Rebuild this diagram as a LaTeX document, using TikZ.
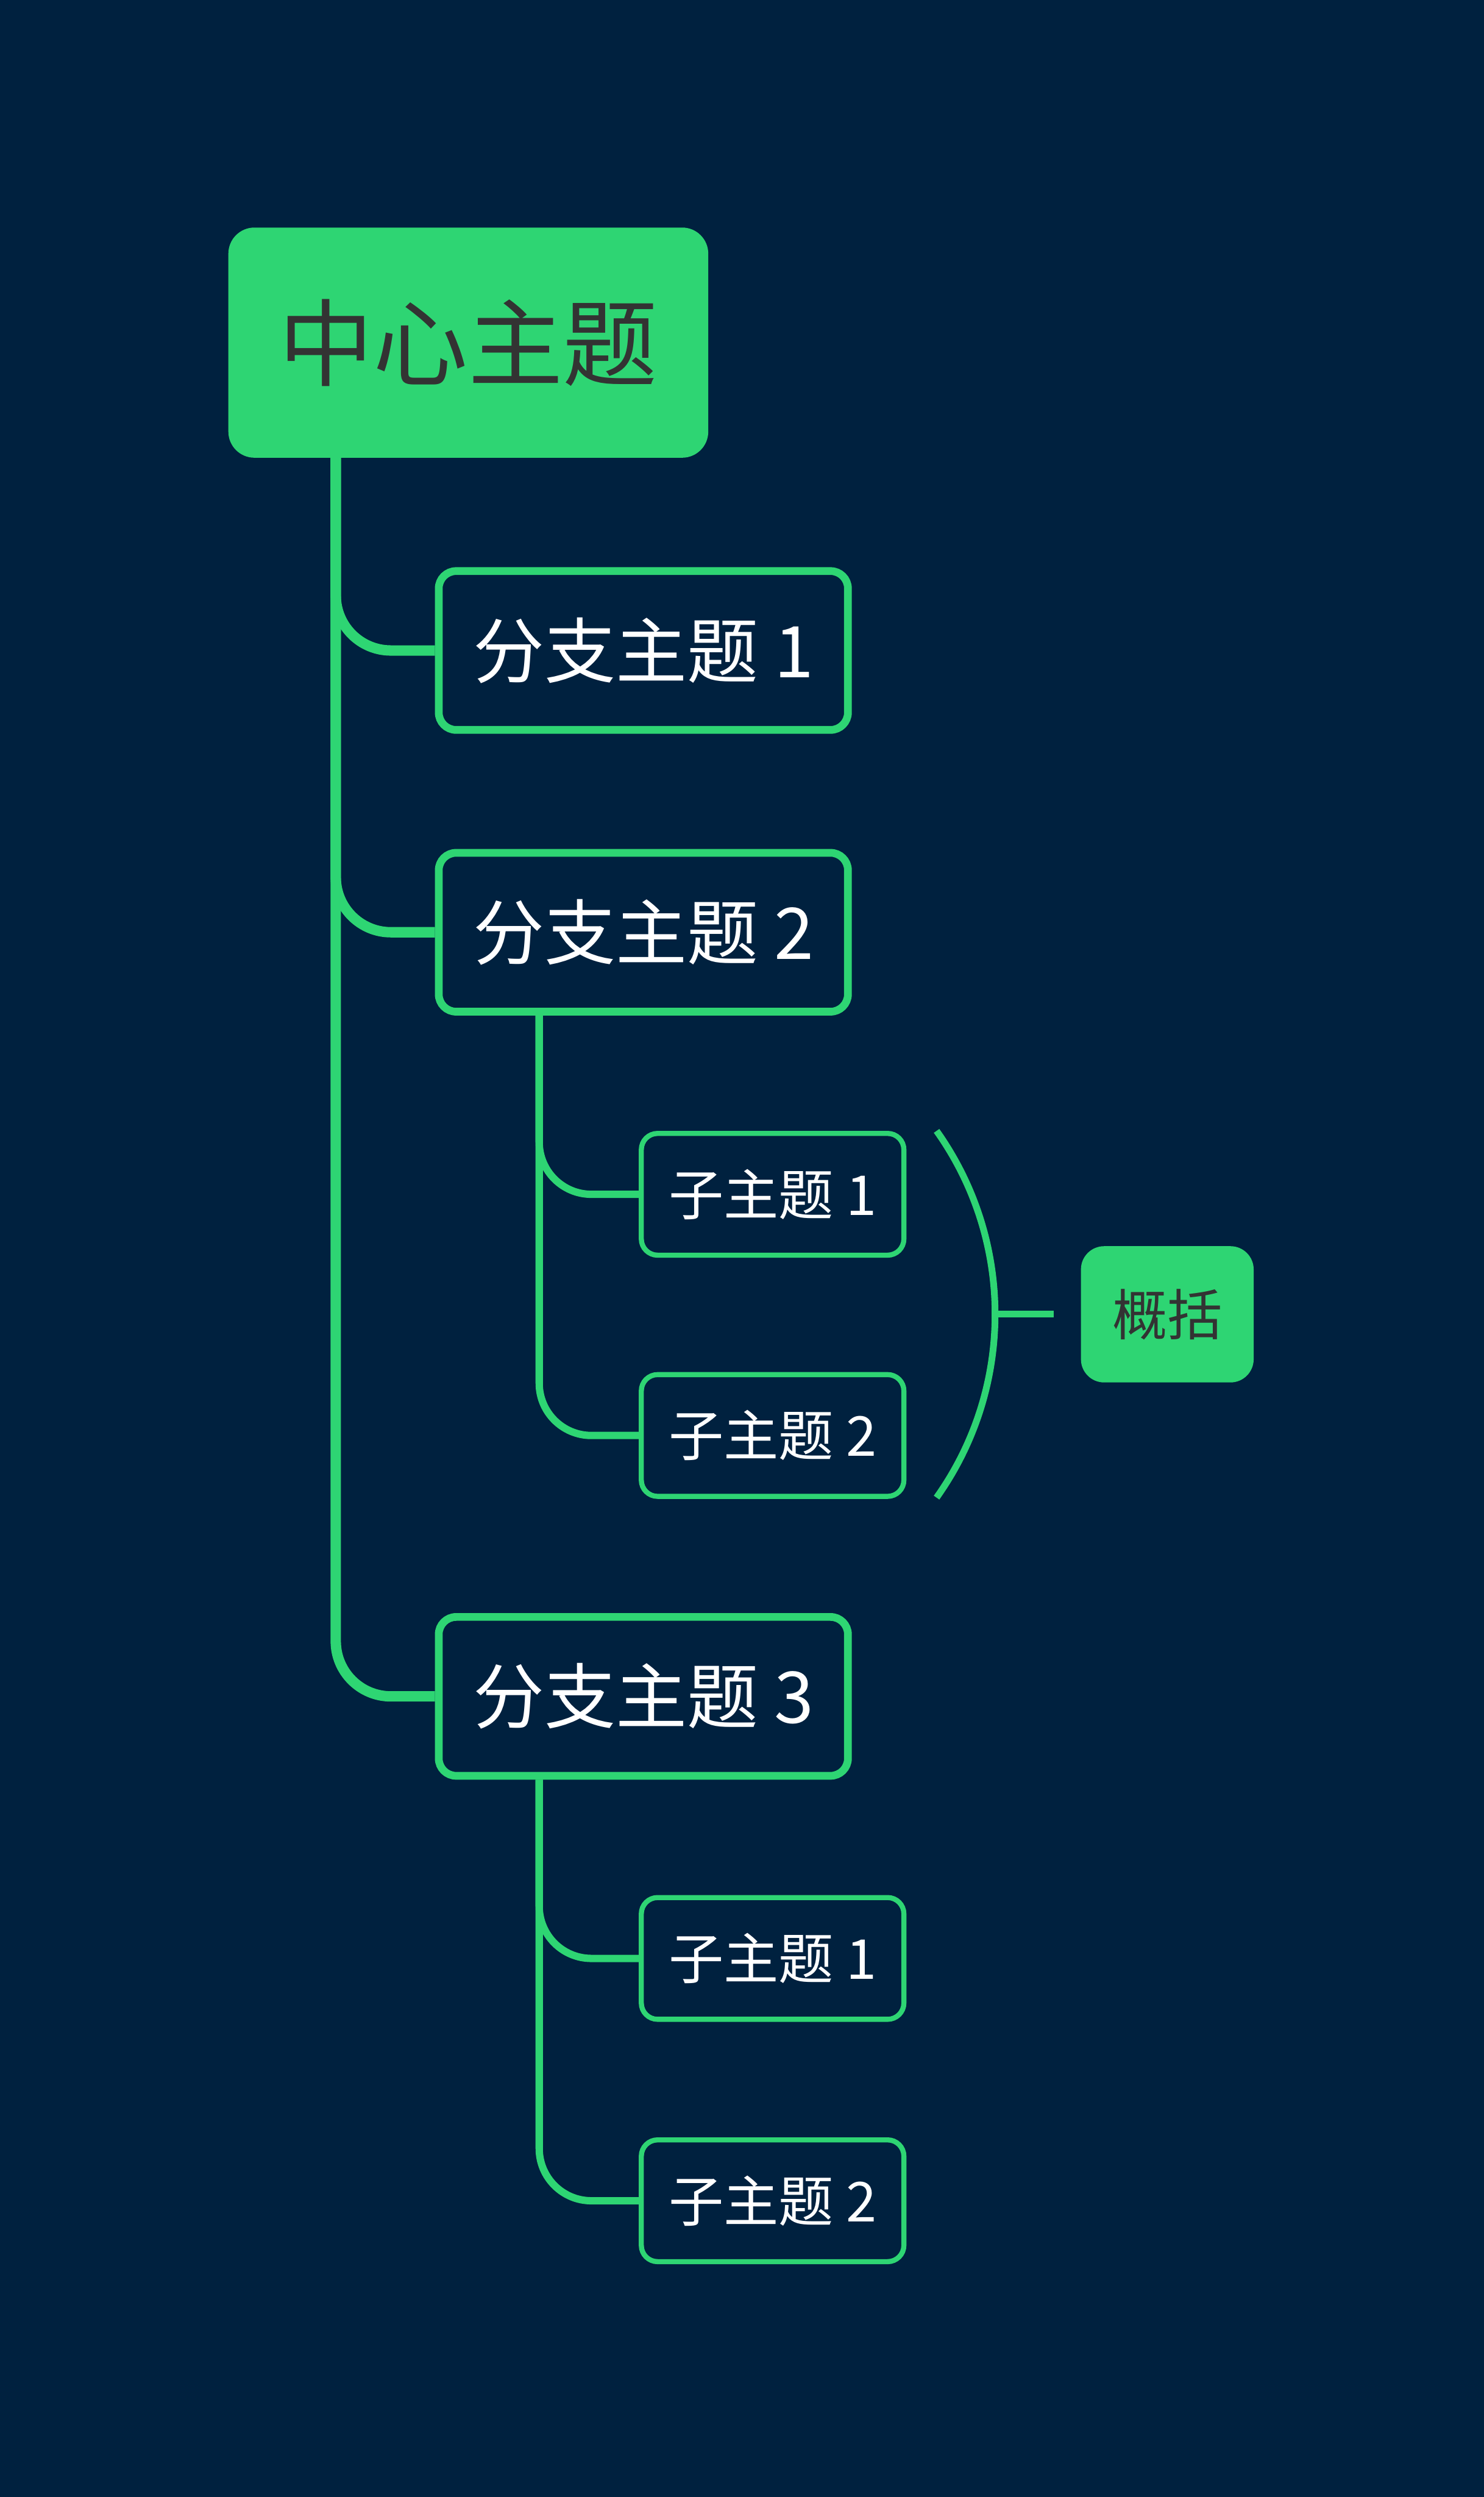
\documentclass[tikz,border=0pt]{standalone}
\usepackage{fontspec}
\usetikzlibrary{calc}
\newfontfamily\cjk{Noto Sans CJK SC}
\definecolor{mapbg}{HTML}{00213F}
\definecolor{mapgreen}{HTML}{2ED573}
\definecolor{mapdark}{HTML}{333333}

\begin{document}
\begin{tikzpicture}[
    central/.style={fill=mapgreen, rounded corners=0.45cm, minimum width=8.28cm,
                    minimum height=3.97cm, inner sep=0pt, text=mapdark,
                    font=\cjk\fontsize{46.5}{56}\selectfont},
    branch/.style={draw=mapgreen, line width=3.8pt, rounded corners=0.3cm, fill=mapbg,
                   minimum width=7.06cm, minimum height=2.74cm, inner sep=0pt,
                   text=white, font=\cjk\fontsize{35}{42}\selectfont},
    sub/.style={draw=mapgreen, line width=2.5pt, rounded corners=0.28cm, fill=mapbg,
                minimum width=4.53cm, minimum height=2.10cm, inner sep=0pt,
                text=white, font=\cjk\fontsize{27}{32}\selectfont},
    summary/.style={fill=mapgreen, rounded corners=0.4cm, minimum width=2.98cm,
                    minimum height=2.35cm, inner sep=0pt, text=mapdark,
                    font=\cjk\fontsize{27}{32}\selectfont},
    trunk/.style={draw=mapgreen, line width=5.1pt, rounded corners=0.95cm},
    twig/.style={draw=mapgreen, line width=3.6pt, rounded corners=0.9cm},
    brace/.style={draw=mapgreen, line width=3.3pt}
  ]
    \fill[mapbg] (0,0) rectangle (25.60,-43.07);

    \node[central] (central) at (8.08,-5.91)  {中心主题};
    \node[branch]  (b1)      at (11.10,-11.22) {分支主题 1};
    \node[branch]  (b2)      at (11.10,-16.08) {分支主题 2};
    \node[branch]  (b3)      at (11.10,-29.26) {分支主题 3};
    \node[sub]     (s21)     at (13.33,-20.60) {子主题 1};
    \node[sub]     (s22)     at (13.33,-24.76) {子主题 2};
    \node[sub]     (s31)     at (13.33,-33.78) {子主题 1};
    \node[sub]     (s32)     at (13.33,-37.96) {子主题 2};
    \node[summary] (sum)     at (20.14,-22.67) {概括};

    % trunk from the central topic
    \coordinate (root) at ($(central.south west)+(1.86,0.05)$);
    \foreach \b in {b1, b2, b3}
      \draw[trunk] (root) |- (\b.west);

    % sub topics
    \coordinate (foot2) at ($(b2.south west)+(1.80,0)$);
    \coordinate (foot3) at ($(b3.south west)+(1.80,0)$);
    \foreach \f/\s in {foot2/s21, foot2/s22, foot3/s31, foot3/s32}
      \draw[twig] (\f) |- (\s.west);

    % summary bracket
    \coordinate (brtop) at ($(s21.north east)+(0.52,0)$);
    \draw[brace] (brtop) arc[start angle=35.4, end angle=-35.4, radius=5.46];
    \coordinate (apex) at ($(sum.west)+(-1.43,0)$);
    \coordinate (tick) at ($(sum.west)+(-0.46,0)$);
    \draw[brace] (apex) -- (tick);
\end{tikzpicture}
\end{document}
